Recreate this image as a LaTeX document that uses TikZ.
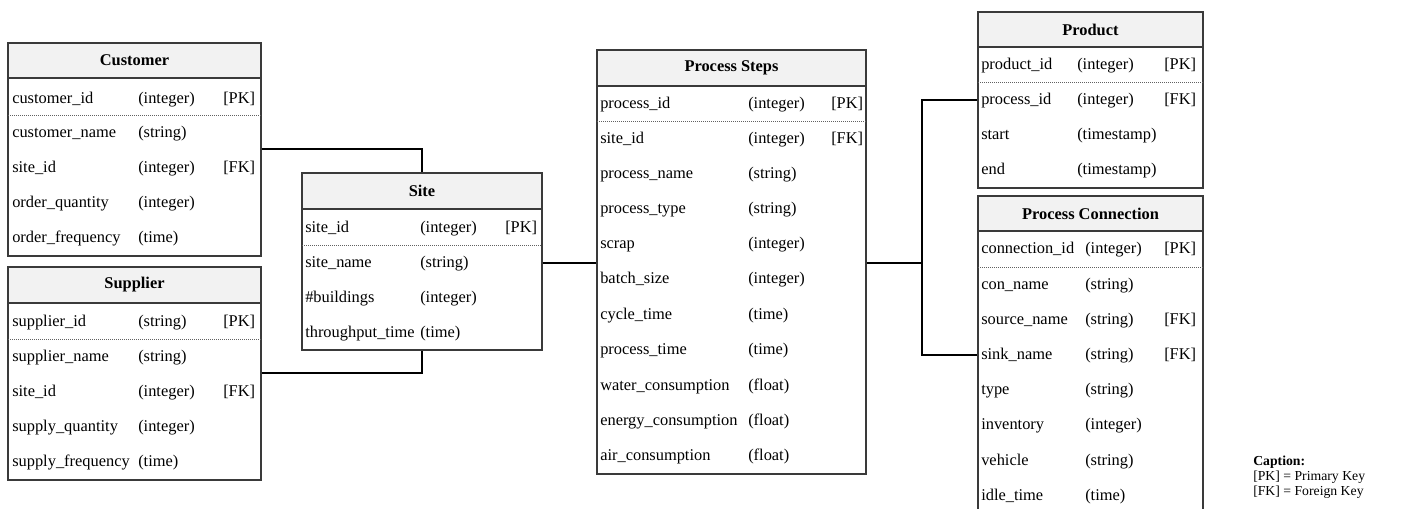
\documentclass[tikz,border=0pt]{standalone}
\usepackage{fontspec}
\setmainfont{Liberation Serif}
\usetikzlibrary{fit,calc}
\definecolor{hdrfill}{HTML}{F2F2F2}
\definecolor{edgegray}{HTML}{3A3A3A}
% one row of a table: prefix, index, y, field, type
\newcommand\erow[5]{%
  \node[fld] (#1-f#2) at (\colA,#3+1.5) {#4};
  \node[fld] (#1-t#2) at (\colB,#3+1.5) {#5};
  \coordinate (#1-y#2) at (0,#3);}
% row with a key marker: prefix, index, y, field, type, key
\newcommand\erowk[6]{%
  \erow{#1}{#2}{#3}{#4}{#5}%
  \node[fld] (#1-k#2) at (\colC,#3+1.5) {#6};}
\begin{document}
\begin{tikzpicture}[x=0.75pt,y=-0.75pt,
  tbl/.style={draw=edgegray,line width=0.9pt,inner sep=0pt},
  hdr/.style={draw=edgegray,line width=0.9pt,fill=hdrfill,inner sep=0pt},
  ttl/.style={anchor=center,inner sep=0pt,font=\bfseries\fontsize{12.3}{14}\selectfont},
  fld/.style={anchor=mid west,inner sep=0pt,font=\fontsize{12.3}{14}\selectfont},
  sep/.style={draw=edgegray!80,line width=0.6pt,dash pattern=on 0.6pt off 0.9pt},
  conn/.style={draw=black,line width=1.5pt}]
\clip (0,0) rectangle (1410,508);
\fill[white] (0,0) rectangle (1410,508);

% ---------- Customer ----------
\node[tbl, fit={(8,43) (261,256)}] (cust) {};
\node[hdr, fit={(8,43) (261,78)}] (cust-h) {};
\node[ttl] (cust-t) at (cust-h.center) {Customer};
\def\colA{12}\def\colB{138}\def\colC{223}
\erowk{cust}{1}{99}{customer\_id}{(integer)}{[PK]}
\erow{cust}{2}{133}{customer\_name}{(string)}
\erowk{cust}{3}{168}{site\_id}{(integer)}{[FK]}
\erow{cust}{4}{203}{order\_quantity}{(integer)}
\erow{cust}{5}{238}{order\_frequency}{(time)}
\draw[sep] (8,115.5) -- (261,115.5);

% ---------- Supplier ----------
\node[tbl, fit={(8,267) (261,480)}] (sup) {};
\node[hdr, fit={(8,267) (261,303)}] (sup-h) {};
\node[ttl] (sup-t) at (sup-h.center) {Supplier};
\erowk{sup}{1}{322}{supplier\_id}{(string)}{[PK]}
\erow{sup}{2}{357}{supplier\_name}{(string)}
\erowk{sup}{3}{392}{site\_id}{(integer)}{[FK]}
\erow{sup}{4}{427}{supply\_quantity}{(integer)}
\erow{sup}{5}{462}{supply\_frequency}{(time)}
\draw[sep] (8,339.5) -- (261,339.5);

% ---------- Site ----------
\node[tbl, fit={(302,173) (542,350)}] (site) {};
\node[hdr, fit={(302,173) (542,209)}] (site-h) {};
\node[ttl] (site-t) at (site-h.center) {Site};
\def\colA{305}\def\colB{420}\def\colC{505}
\erowk{site}{1}{228}{site\_id}{(integer)}{[PK]}
\erow{site}{2}{263}{site\_name}{(string)}
\erow{site}{3}{298}{\#buildings}{(integer)}
\erow{site}{4}{333}{throughput\_time}{(time)}
\draw[sep] (302,245.5) -- (542,245.5);

% ---------- Process Steps ----------
\node[tbl, fit={(597,50) (866,474)}] (ps) {};
\node[hdr, fit={(597,50) (866,86)}] (ps-h) {};
\node[ttl] (ps-t) at (ps-h.center) {Process Steps};
\def\colA{600}\def\colB{748}\def\colC{831}
\erowk{ps}{1}{104}{process\_id}{(integer)}{[PK]}
\erowk{ps}{2}{139}{site\_id}{(integer)}{[FK]}
\erow{ps}{3}{174}{process\_name}{(string)}
\erow{ps}{4}{209}{process\_type}{(string)}
\erow{ps}{5}{244}{scrap}{(integer)}
\erow{ps}{6}{279}{batch\_size}{(integer)}
\erow{ps}{7}{315}{cycle\_time}{(time)}
\erow{ps}{8}{350}{process\_time}{(time)}
\erow{ps}{9}{386}{water\_consumption}{(float)}
\erow{ps}{10}{421}{energy\_consumption}{(float)}
\erow{ps}{11}{456}{air\_consumption}{(float)}
\draw[sep] (597,121.5) -- (866,121.5);

% ---------- Product ----------
\node[tbl, fit={(978,12) (1203,188)}] (prod) {};
\node[hdr, fit={(978,12) (1203,47)}] (prod-h) {};
\node[ttl] (prod-t) at (prod-h.center) {Product};
\def\colA{981}\def\colB{1077}\def\colC{1164}
\erowk{prod}{1}{65}{product\_id}{(integer)}{[PK]}
\erowk{prod}{2}{100}{process\_id}{(integer)}{[FK]}
\erow{prod}{3}{135}{start}{(timestamp)}
\erow{prod}{4}{170}{end}{(timestamp)}
\draw[sep] (978,82.5) -- (1203,82.5);

% ---------- Process Connection ----------
\node[tbl, fit={(978,196) (1203,516)}] (pc) {};
\node[hdr, fit={(978,196) (1203,231)}] (pc-h) {};
\node[ttl] (pc-t) at (pc-h.center) {Process Connection};
\def\colA{981}\def\colB{1085}\def\colC{1164}
\erowk{pc}{1}{249}{connection\_id}{(integer)}{[PK]}
\erow{pc}{2}{285}{con\_name}{(string)}
\erowk{pc}{3}{320}{source\_name}{(string)}{[FK]}
\erowk{pc}{4}{355}{sink\_name}{(string)}{[FK]}
\erow{pc}{5}{390}{type}{(string)}
\erow{pc}{6}{425}{inventory}{(integer)}
\erow{pc}{7}{461}{vehicle}{(string)}
\erow{pc}{8}{496}{idle\_time}{(time)}
\draw[sep] (978,267) -- (1203,267);

% ---------- Relations ----------
\coordinate (cust-link) at (0,149);
\coordinate (sup-link) at (0,373);
\coordinate (hub) at (922,263);
\draw[conn] (cust.east |- cust-link) -| (site.north);
\draw[conn] (sup.east |- sup-link) -| (site.south);
\draw[conn] (site.east |- site-y2) -- (ps.west |- site-y2);
\draw[conn] (ps.east |- hub) -- (hub);
\draw[conn] (prod.west |- prod-y2) -| (hub) |- (pc.west |- pc-y4);

% ---------- Caption ----------
\node[anchor=base west, align=left, inner sep=0pt,
  font=\fontsize{10.3}{11.25}\selectfont] (caption) at (1253,495)
  {\textbf{Caption:}\\ {[PK]} = Primary Key\\ {[FK]} = Foreign Key};
\end{tikzpicture}
\end{document}
